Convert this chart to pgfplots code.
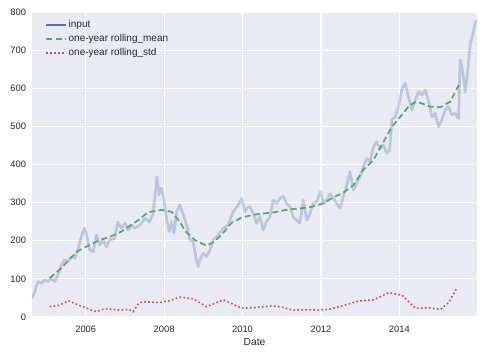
\documentclass[border=0pt]{standalone}
\usepackage{pgfplots}
\pgfplotsset{compat=1.18}
\usepackage{fontspec}
\setmainfont{Liberation Sans}
\definecolor{bg}{HTML}{EAEAF2}
\definecolor{sblue}{HTML}{4C72B0}
\definecolor{sgreen}{HTML}{55A868}
\definecolor{sred}{HTML}{C44E52}
\definecolor{txt}{HTML}{262626}
\begin{document}
\begin{tikzpicture}
\begin{axis}[
  width=333.75pt, height=228.75pt, scale only axis,
  xmin=2004.63, xmax=2015.98, ymin=0, ymax=800,
  xtick={2006,2008,2010,2012,2014},
  ytick={0,100,...,800},
  /pgf/number format/.cd, 1000 sep={}, assume math mode=true, /pgfplots/.cd,
  axis background/.style={fill=bg},
  axis line style={draw=none},
  major tick length=0pt,
  grid=major,
  major grid style={white, line width=0.9pt},
  tick label style={font=\fontsize{7}{8}\selectfont, text=txt},
  xticklabel style={yshift=-3.5pt},
  yticklabel style={xshift=-1pt},
  xlabel={Date},
  xlabel style={font=\fontsize{7.7}{9}\selectfont, text=txt, yshift=3pt},
  legend style={at={(0.021,0.99)}, anchor=north west, draw=none, fill=none,
    font=\fontsize{7.5}{8}\selectfont, text=txt, row sep=0pt,
    nodes={inner sep=1pt, text height=6.5pt, text depth=2pt}},
  legend cell align=left,
  legend image code/.code={\draw[line width=1.3pt,#1] (0pt,0pt) -- (15pt,0pt);},
  clip=true,
]
\addlegendimage{color=sblue, line width=1.3pt, solid}
\addlegendentry{input}
\addplot[sblue, opacity=0.3, line width=2pt, line join=round, forget plot] coordinates {
(2004.63,49) (2004.70,66) (2004.78,93) (2004.87,88) (2004.95,97) (2005.04,93)
(2005.12,101) (2005.21,93) (2005.29,110) (2005.38,136) (2005.46,150) (2005.55,145)
(2005.63,158) (2005.72,154) (2005.80,176) (2005.89,211) (2005.97,233) (2006.03,211)
(2006.10,176) (2006.19,171) (2006.27,215) (2006.36,189) (2006.44,202) (2006.53,184)
(2006.61,202) (2006.74,206) (2006.82,250) (2006.91,233) (2007.00,246) (2007.08,228)
(2007.17,241) (2007.25,233) (2007.38,241) (2007.51,259) (2007.63,250) (2007.72,272)
(2007.79,338) (2007.82,368) (2007.87,320) (2007.93,338) (2007.99,311) (2008.06,259)
(2008.13,224) (2008.19,250) (2008.25,220) (2008.32,276) (2008.40,294) (2008.49,268)
(2008.57,241) (2008.66,202) (2008.74,198) (2008.83,145) (2008.87,132) (2008.91,150)
(2009.00,167) (2009.08,158) (2009.17,176) (2009.25,202) (2009.38,215) (2009.51,233)
(2009.63,241) (2009.76,276) (2009.89,294) (2009.98,311) (2010.06,276) (2010.14,289)
(2010.19,289) (2010.27,272) (2010.36,246) (2010.44,263) (2010.53,228) (2010.61,250)
(2010.70,263) (2010.78,307) (2010.87,298) (2010.95,311) (2011.04,316) (2011.12,298)
(2011.21,289) (2011.29,263) (2011.38,254) (2011.46,246) (2011.55,307) (2011.64,254)
(2011.72,272) (2011.80,298) (2011.89,302) (2011.99,329) (2012.06,298) (2012.15,307)
(2012.23,324) (2012.32,311) (2012.40,298) (2012.49,285) (2012.57,316) (2012.66,346)
(2012.74,381) (2012.83,333) (2012.91,351) (2013.00,368) (2013.08,394) (2013.17,416)
(2013.25,407) (2013.34,447) (2013.42,460) (2013.51,442) (2013.59,451) (2013.68,429)
(2013.75,438) (2013.81,517) (2013.89,525) (2013.98,552) (2014.06,595) (2014.15,613)
(2014.23,578) (2014.32,543) (2014.40,569) (2014.49,591) (2014.57,582) (2014.66,595)
(2014.74,569) (2014.83,525) (2014.91,534) (2015.00,499) (2015.08,517) (2015.17,543)
(2015.25,552) (2015.34,530) (2015.42,534) (2015.51,521) (2015.55,674) (2015.61,648)
(2015.68,590) (2015.74,643) (2015.81,718) (2015.88,744) (2015.93,770) (2015.98,779)
};
\addplot[sgreen, line width=1.3pt, dash pattern=on 4.5pt off 2.5pt] coordinates {
(2005.08,102) (2005.38,128) (2005.59,152) (2005.80,173) (2006.10,189) (2006.36,202)
(2006.61,210) (2006.91,224) (2007.34,254) (2007.59,275) (2007.93,281) (2008.19,276)
(2008.40,250) (2008.53,226) (2008.78,202) (2009.08,187) (2009.29,198) (2009.51,221)
(2009.72,247) (2009.98,261) (2010.27,268) (2010.57,272) (2010.83,275) (2011.17,282)
(2011.48,285) (2011.76,289) (2012.06,298) (2012.32,314) (2012.57,326) (2012.83,346)
(2013.08,386) (2013.34,412) (2013.55,451) (2013.81,499) (2014.06,530) (2014.27,556)
(2014.44,565) (2014.78,552) (2015.04,550) (2015.30,565) (2015.47,600) (2015.52,608)
};
\addlegendentry{one-year rolling\_mean}
\addplot[sred, line width=1.2pt, dash pattern=on 1.2pt off 1.8pt] coordinates {
(2005.08,27) (2005.29,30) (2005.45,36) (2005.55,43) (2005.80,32) (2006.00,24)
(2006.15,18) (2006.27,14) (2006.50,22) (2006.87,18) (2007.10,20) (2007.21,14)
(2007.35,36) (2007.46,40) (2007.89,38) (2008.15,43) (2008.40,52) (2008.74,48)
(2008.90,38) (2009.08,27) (2009.51,45) (2009.75,34) (2009.98,23) (2010.35,25)
(2010.75,29) (2011.00,26) (2011.26,18) (2011.60,19) (2011.94,18) (2012.20,20)
(2012.54,29) (2012.96,42) (2013.35,45) (2013.73,64) (2014.07,57) (2014.41,23)
(2014.75,24) (2015.05,20) (2015.26,38) (2015.47,77)
};
\addlegendentry{one-year rolling\_std}
\end{axis}
\pgfresetboundingbox
\path[use as bounding box] ([shift={(-24pt,-29.25pt)}]current axis.south west) rectangle ([shift={(5.25pt,9pt)}]current axis.north east);
\end{tikzpicture}
\end{document}
